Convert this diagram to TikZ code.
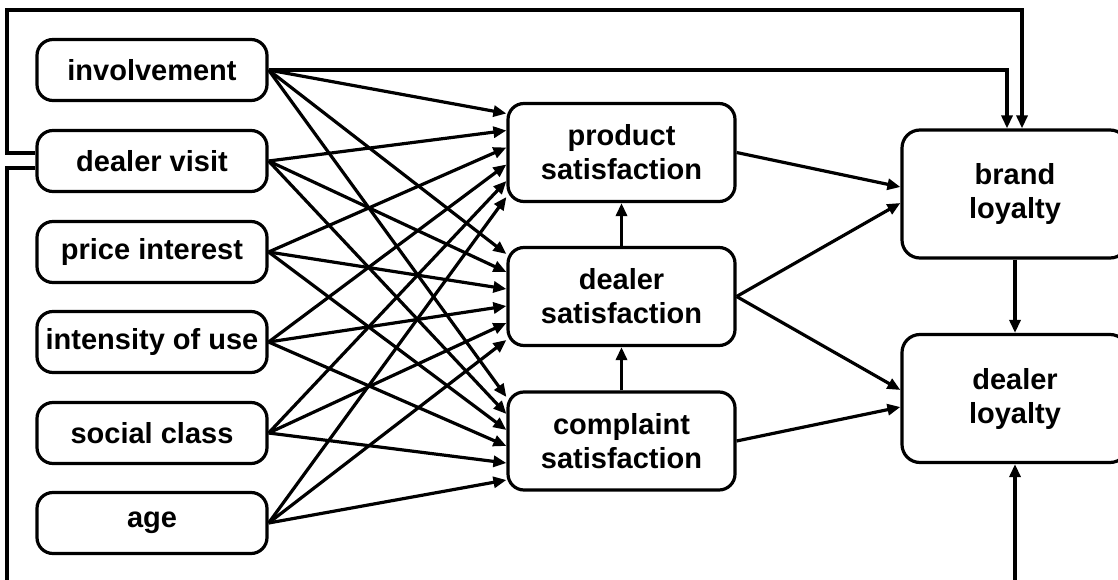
\documentclass[tikz,border=0pt]{standalone}
\usepackage{fontspec}
\setmainfont{Liberation Sans}
\usetikzlibrary{arrows.meta,calc}
\begin{document}
\begin{tikzpicture}[x=1pt,y=-1pt,
  line width=3.2pt,
  box/.style={draw, rounded corners=16pt, inner sep=0pt, align=center,
    font=\fontsize{29}{34}\selectfont\bfseries},
  srcbox/.style={box, minimum width=230pt, minimum height=61pt},
  midbox/.style={box, minimum width=227pt, minimum height=98pt},
  endbox/.style={box, minimum width=226pt, minimum height=128pt, rounded corners=18pt},
  arr/.style={-{Triangle[length=13pt,width=11pt]}},
  link/.style={arr, line join=miter}]
\clip (0,0) rectangle (1118,580);

% antecedents
\node[srcbox] (inv) at (152,70)  {involvement};
\node[srcbox] (vis) at (152,161) {dealer visit};
\node[srcbox] (pri) at (152,252) {price interest};
\node[srcbox] (int) at (152,342) {intensity of use};
\node[srcbox] (soc) at (152,433) {social class};
\node[srcbox] (age) at (152,523) {age};

% satisfaction constructs
\node[midbox] (prod) at (621.5,152.5) {product\\satisfaction};
\node[midbox] (deal) at (621.5,296.5) {dealer\\satisfaction};
\node[midbox] (comp) at (621.5,441)   {complaint\\satisfaction};

% loyalty constructs
\node[endbox] (bl) at (1015,194)   {brand\\loyalty};
\node[endbox] (dl) at (1015,398.5) {dealer\\loyalty};

% antecedents -> product satisfaction
\draw[arr] (inv.east) -- ($(prod.west)+(0,-39)$);
\draw[arr] (vis.east) -- ($(prod.west)+(0,-22)$);
\draw[arr] (pri.east) -- ($(prod.west)+(0,-5)$);
\draw[arr] (int.east) -- ($(prod.west)+(0,12)$);
\draw[arr] (soc.east) -- ($(prod.west)+(0,28.5)$);
\draw[arr] (age.east) -- ($(prod.west)+(0,44.5)$);

% antecedents -> dealer satisfaction
\draw[arr] (inv.east) -- ($(deal.west)+(0,-42.5)$);
\draw[arr] (vis.east) -- ($(deal.west)+(0,-24.5)$);
\draw[arr] (pri.east) -- ($(deal.west)+(0,-7.5)$);
\draw[arr] (int.east) -- ($(deal.west)+(0,9.5)$);
\draw[arr] (soc.east) -- ($(deal.west)+(0,26.5)$);
\draw[arr] (age.east) -- ($(deal.west)+(0,43.5)$);

% antecedents -> complaint satisfaction
\draw[arr] (inv.east) -- ($(comp.west)+(0,-44)$);
\draw[arr] (vis.east) -- ($(comp.west)+(0,-27)$);
\draw[arr] (pri.east) -- ($(comp.west)+(0,-11)$);
\draw[arr] (int.east) -- ($(comp.west)+(0,5)$);
\draw[arr] (soc.east) -- ($(comp.west)+(0,22)$);
\draw[arr] (age.east) -- ($(comp.west)+(0,39)$);

% between satisfaction constructs
\draw[arr] (comp.north) -- (deal.south);
\draw[arr] (deal.north) -- (prod.south);

% satisfaction -> loyalty
\draw[arr] (prod.east) -- ($(bl.west)+(0,-7)$);
\draw[arr] (deal.east) -- ($(bl.west)+(0,9)$);
\draw[arr] (deal.east) -- ($(dl.west)+(0,-8.5)$);
\draw[arr] (comp.east) -- ($(dl.west)+(0,8.5)$);
\draw[arr] (bl.south) -- (dl.north);

% direct paths to loyalty
\draw[link] (inv.east) -| ($(bl.north)+(-8,0)$);
\draw[link] ($(vis.west)+(0,-8)$) -- (7,153) -- (7,10) -| ($(bl.north)+(7,0)$);
\draw[link] ($(vis.west)+(0,7)$) -- (7,168) -- (7,592) -| (dl.south);
\end{tikzpicture}
\end{document}
